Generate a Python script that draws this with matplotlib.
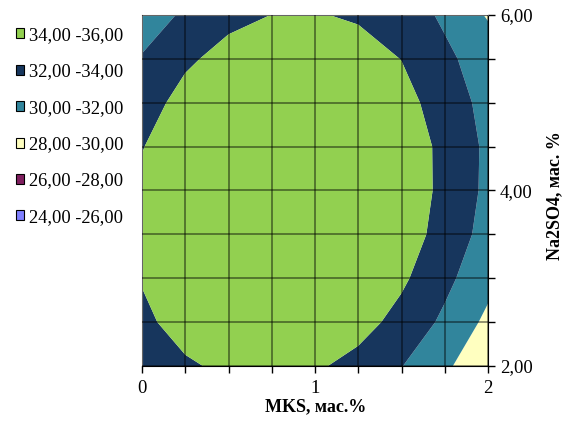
import matplotlib
matplotlib.use("Agg")
import matplotlib.pyplot as plt
from matplotlib.patches import Patch
import numpy as np

plt.rcParams["font.family"] = ["Liberation Serif", "DejaVu Serif"]

# ---------------------------------------------------------------------------
# данные: сетка MKS x Na2SO4 и значения отклика
# ---------------------------------------------------------------------------
mks = [0.0, 0.25, 0.5, 0.75, 1.0, 1.25, 1.5, 1.75, 2.0]
na2so4 = [2.0, 2.5, 3.0, 3.5, 4.0, 4.5, 5.0, 5.5, 6.0]

# строки: Na2SO4 = 2.0 ... 6.0, столбцы: MKS = 0 ... 2
z_values = [
    [33.00, 33.78, 34.32, 34.50, 34.27, 33.36, 32.06, 30.30, 28.70],
    [33.65, 34.64, 35.00, 35.10, 35.00, 34.75, 33.34, 31.62, 29.55],
    [34.10, 34.80, 35.20, 35.30, 35.20, 34.90, 34.34, 32.50, 30.61],
    [34.50, 35.10, 35.50, 35.60, 35.50, 35.20, 34.70, 33.48, 31.14],
    [34.25, 35.00, 35.50, 35.70, 35.70, 35.50, 35.00, 33.61, 31.55],
    [33.95, 34.80, 35.30, 35.60, 35.70, 35.50, 35.00, 33.59, 31.60],
    [33.49, 34.40, 35.00, 35.40, 35.50, 35.20, 34.60, 33.20, 31.30],
    [32.10, 33.81, 34.38, 35.00, 35.10, 34.71, 33.97, 32.32, 31.25],
    [31.30, 32.20, 33.70, 34.01, 34.10, 33.80, 32.80, 31.75, 29.80],
]

levels = [24, 26, 28, 30, 32, 34, 36]
level_labels = ["24,00 -26,00", "26,00 -28,00", "28,00 -30,00",
                "30,00 -32,00", "32,00 -34,00", "34,00 -36,00"]
level_colors = ["#8080ff", "#7f1f5f", "#ffffc0", "#31859c", "#17365d", "#92d050"]

x_tick_labels = ["0", "", "", "", "1", "", "", "", "2"]
y_tick_labels = ["2,00", "", "", "", "4,00", "", "", "", "6,00"]

# ---------------------------------------------------------------------------
# рисунок
# ---------------------------------------------------------------------------
fig = plt.figure(figsize=(5.76, 4.23), dpi=100)
ax = fig.add_axes([142 / 576, 57 / 423, 346 / 576, 351 / 423])

X, Y = np.meshgrid(mks, na2so4)
ax.contourf(X, Y, np.array(z_values), levels=levels, colors=level_colors,
            antialiased=True, zorder=1)

ax.set_xlim(mks[0], mks[-1])
ax.set_ylim(na2so4[0], na2so4[-1])
ax.set_xticks(mks)
ax.set_xticklabels(x_tick_labels)
ax.set_yticks(na2so4)
ax.set_yticklabels(y_tick_labels)
ax.yaxis.tick_right()

ax.tick_params(axis="both", direction="out", length=5, width=1,
               labelsize=13.5, color="black")
ax.tick_params(axis="x", pad=5)
ax.tick_params(axis="y", pad=3.5)

ax.set_axisbelow(False)
ax.grid(True, color="black", alpha=0.5, linewidth=1.2)

for side in ("top", "left"):
    ax.spines[side].set_color("#b0b0b0")
for side in ("bottom", "right"):
    ax.spines[side].set_color("black")

fig.text(0.548, 1 - 407 / 423, "MKS, мас.%", ha="center", va="center",
         fontsize=13, fontweight="bold")
fig.text(555 / 576, 1 - 196 / 423, "Na2SO4, мас. %", ha="center", va="center",
         rotation=90, fontsize=13, fontweight="bold")

# легенда: сверху вниз от старшего интервала
handles = [Patch(facecolor=c, edgecolor="black", linewidth=0.8, label=l)
           for c, l in zip(level_colors[::-1], level_labels[::-1])]
fig.legend(handles=handles, loc="upper left",
           bbox_to_anchor=(16 / 576, 1 - 27 / 423), frameon=False,
           fontsize=13.3, handlelength=0.45, handleheight=0.45,
           handletextpad=0.25, labelspacing=1.05, borderpad=0,
           borderaxespad=0)

fig.savefig("out.png", dpi=100)
plt.close(fig)
